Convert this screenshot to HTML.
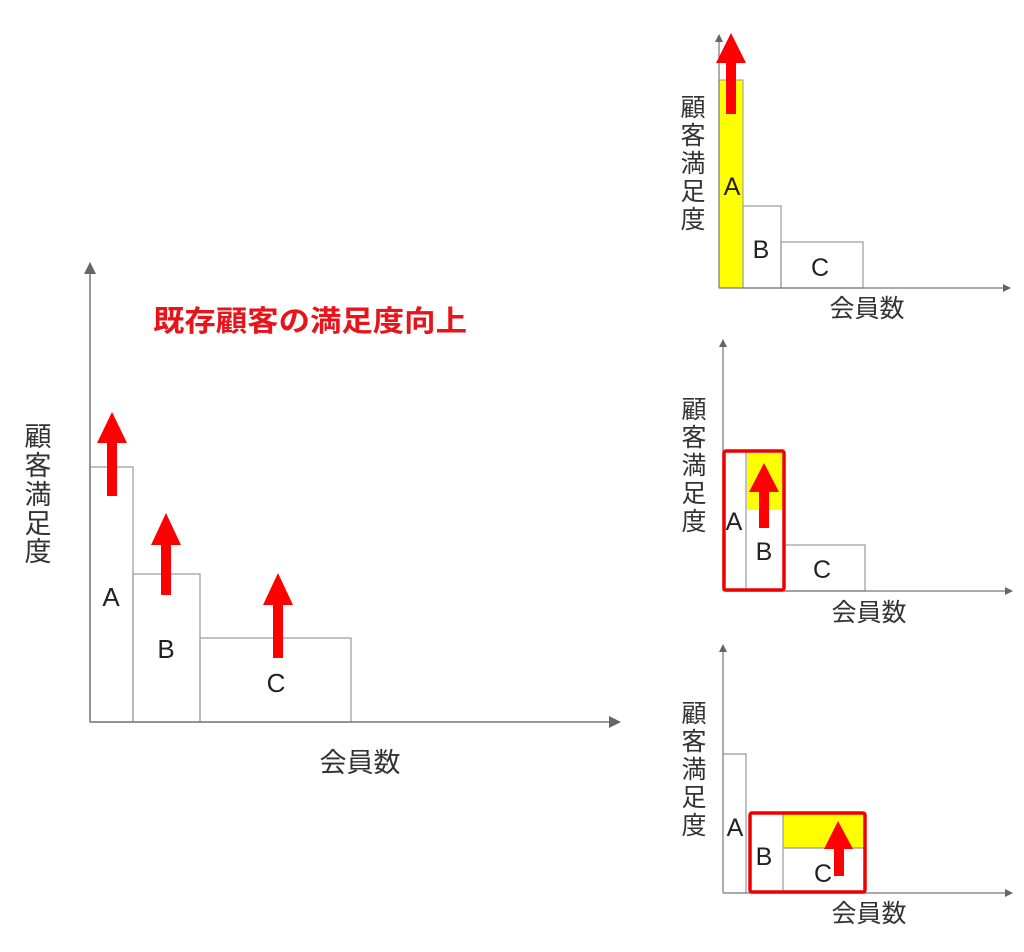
<!DOCTYPE html>
<html><head><meta charset="utf-8"><style>
html,body{margin:0;padding:0;background:#fff;width:1024px;height:952px;overflow:hidden}
text{font-family:"Liberation Sans","Noto Sans CJK JP",sans-serif}
</style></head><body>
<svg width="1024" height="952" viewBox="0 0 1024 952" xmlns="http://www.w3.org/2000/svg">
<defs>
<marker id="ah" markerWidth="8" markerHeight="8" refX="7" refY="4" orient="auto" markerUnits="userSpaceOnUse"><path d="M0,0 L8,4 L0,8 z" fill="#666"/></marker>
<marker id="ahs" markerWidth="12" markerHeight="12" refX="11" refY="6" orient="auto" markerUnits="userSpaceOnUse"><path d="M0,0 L12,6 L0,12 z" fill="#666"/></marker>
</defs>
<!-- Main chart -->
<g fill="none" stroke="#999" stroke-width="1.2">
<rect x="90" y="467" width="43" height="255"/>
<rect x="133" y="574" width="67" height="148"/>
<rect x="200" y="638" width="151" height="84"/>
</g>
<line x1="90" y1="722" x2="90" y2="263" stroke="#777" stroke-width="1.5" marker-end="url(#ahs)"/>
<line x1="90" y1="722" x2="620" y2="722" stroke="#777" stroke-width="1.5" marker-end="url(#ahs)"/>
<g fill="#f00">
<path d="M107,496 L107,443 L97,443 L112,412 L127,443 L117,443 L117,496 z"/>
<path d="M161,595 L161,545 L151,545 L166,513 L181,545 L171,545 L171,595 z"/>
<path d="M273,658 L273,605 L263,605 L278,573 L293,605 L283,605 L283,658 z"/>
</g>
<g font-size="26" fill="#222" text-anchor="middle">
<text x="111" y="606">A</text>
<text x="166" y="658">B</text>
<text x="276" y="692">C</text>
</g>
<text x="153" y="331" font-size="29" font-weight="bold" fill="#e8141b" textLength="314" lengthAdjust="spacingAndGlyphs">既存顧客の満足度向上</text>
<g font-size="27" fill="#333" text-anchor="middle">
<text x="38" y="446">顧</text><text x="38" y="475">客</text><text x="38" y="504">満</text><text x="38" y="533">足</text><text x="38" y="561">度</text>
<text x="360" y="772">会員数</text>
</g>

<!-- Top right chart -->
<rect x="719" y="80" width="24" height="208" fill="#ff0" stroke="#999"/>
<g fill="none" stroke="#999" stroke-width="1.2">
<rect x="743" y="206" width="38" height="82"/>
<rect x="781" y="242" width="82" height="46"/>
</g>
<line x1="719" y1="288" x2="719" y2="35" stroke="#777" stroke-width="1.2" marker-end="url(#ah)"/>
<line x1="719" y1="288" x2="1010" y2="288" stroke="#777" stroke-width="1.2" marker-end="url(#ah)"/>
<path d="M726,114 L726,63 L716,63 L731,33 L746,63 L736,63 L736,114 z" fill="#f00"/>
<g font-size="25" fill="#222" text-anchor="middle">
<text x="732" y="195">A</text><text x="761" y="258">B</text><text x="820" y="276">C</text>
</g>
<g font-size="25" fill="#333" text-anchor="middle">
<text x="693" y="116">顧</text><text x="693" y="144">客</text><text x="693" y="172">満</text><text x="693" y="200">足</text><text x="693" y="228">度</text>
<text x="867" y="317">会員数</text>
</g>

<!-- Middle chart -->
<rect x="747" y="453" width="36" height="57" fill="#ff0"/>
<g fill="none" stroke="#999" stroke-width="1.2">
<line x1="746" y1="452" x2="746" y2="591"/>
<rect x="784" y="545" width="81" height="46"/>
</g>
<line x1="723" y1="591" x2="723" y2="340" stroke="#777" stroke-width="1.2" marker-end="url(#ah)"/>
<line x1="723" y1="591" x2="1012" y2="591" stroke="#777" stroke-width="1.2" marker-end="url(#ah)"/>
<rect x="724" y="451" width="60" height="139" fill="none" stroke="#e00" stroke-width="3.5" rx="2"/>
<path d="M759,528 L759,492 L749,492 L764,463 L779,492 L769,492 L769,528 z" fill="#f00"/>
<g font-size="25" fill="#222" text-anchor="middle">
<text x="734" y="530">A</text><text x="764" y="560">B</text><text x="822" y="578">C</text>
</g>
<g font-size="25" fill="#333" text-anchor="middle">
<text x="694" y="418">顧</text><text x="694" y="446">客</text><text x="694" y="474">満</text><text x="694" y="502">足</text><text x="694" y="530">度</text>
<text x="869" y="621">会員数</text>
</g>

<!-- Bottom chart -->
<rect x="783" y="814" width="81" height="34" fill="#ff0"/>
<g fill="none" stroke="#999" stroke-width="1.2">
<polyline points="723,754 746,754 746,893"/>
<line x1="783" y1="814" x2="783" y2="891"/>
<line x1="783" y1="848" x2="864" y2="848"/>
</g>
<line x1="723" y1="893" x2="723" y2="645" stroke="#777" stroke-width="1.2" marker-end="url(#ah)"/>
<line x1="723" y1="893" x2="1012" y2="893" stroke="#777" stroke-width="1.2" marker-end="url(#ah)"/>
<rect x="750" y="813" width="115" height="79" fill="none" stroke="#e00" stroke-width="3.5" rx="2"/>
<path d="M834,876 L834,849 L824,849 L838,821 L853,849 L844,849 L844,876 z" fill="#f00"/>
<g font-size="25" fill="#222" text-anchor="middle">
<text x="735" y="836">A</text><text x="764" y="865">B</text><text x="823" y="882">C</text>
</g>
<g font-size="25" fill="#333" text-anchor="middle">
<text x="694" y="722">顧</text><text x="694" y="750">客</text><text x="694" y="778">満</text><text x="694" y="806">足</text><text x="694" y="834">度</text>
<text x="869" y="922">会員数</text>
</g>
</svg>
</body></html>
